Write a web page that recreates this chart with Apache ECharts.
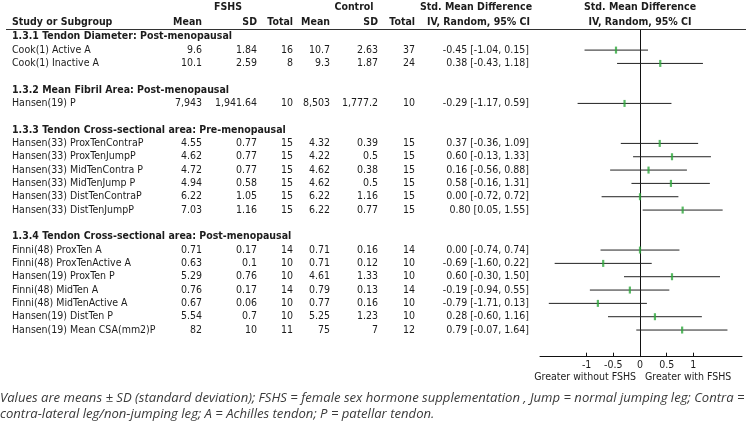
<!DOCTYPE html>
<html><head><meta charset="utf-8">
<script src="https://cdn.jsdelivr.net/npm/echarts@6/dist/echarts.min.js"></script>
<style>html,body{margin:0;padding:0;background:#fff}#c{width:749px;height:430px}</style>
</head><body><div id="c"></div>
<script>
const groupTitles = [
  '1.3.1 Tendon Diameter: Post-menopausal',
  '1.3.2 Mean Fibril Area: Post-menopausal',
  '1.3.3 Tendon Cross-sectional area: Pre-menopausal',
  '1.3.4 Tendon Cross-sectional area: Post-menopausal'
];
const studyGroup = [0,0,1,2,2,2,2,2,2,3,3,3,3,3,3,3];
const studies = ['Cook(1) Active A','Cook(1) Inactive A','Hansen(19) P','Hansen(33) ProxTenContraP','Hansen(33) ProxTenJumpP','Hansen(33) MidTenContra P','Hansen(33) MidTenJump P','Hansen(33) DistTenContraP','Hansen(33) DistTenJumpP','Finni(48) ProxTen A','Finni(48) ProxTenActive A','Hansen(19) ProxTen P','Finni(48) MidTen A','Finni(48) MidTenActive A','Hansen(19) DistTen P','Hansen(19) Mean CSA(mm2)P'];
const fshsMean = [9.6,10.1,7943,4.55,4.62,4.72,4.94,6.22,7.03,0.71,0.63,5.29,0.76,0.67,5.54,82];
const fshsSD = [1.84,2.59,1941.64,0.77,0.77,0.77,0.58,1.05,1.16,0.17,0.1,0.76,0.17,0.06,0.7,10];
const fshsN = [16,8,10,15,15,15,15,15,15,14,10,10,14,10,10,11];
const ctrlMean = [10.7,9.3,8503,4.32,4.22,4.62,4.62,6.22,6.22,0.71,0.71,4.61,0.79,0.77,5.25,75];
const ctrlSD = [2.63,1.87,1777.2,0.39,0.5,0.38,0.5,1.16,0.77,0.16,0.12,1.33,0.13,0.16,1.23,7];
const ctrlN = [37,24,10,15,15,15,15,15,15,14,10,10,14,10,10,12];
const smd = [-0.45,0.38,-0.29,0.37,0.60,0.16,0.58,0.00,0.80,0.00,-0.69,0.60,-0.19,-0.79,0.28,0.79];
const ciLow = [-1.04,-0.43,-1.17,-0.36,-0.13,-0.56,-0.16,-0.72,0.05,-0.74,-1.60,-0.30,-0.94,-1.71,-0.60,-0.07];
const ciHigh = [0.15,1.18,0.59,1.09,1.33,0.88,1.31,0.72,1.55,0.74,0.22,1.50,0.55,0.13,1.16,1.64];
const xTickValues = [-1,-0.5,0,0.5,1];
const leftLabel = 'Greater without FSHS';
const rightLabel = 'Greater with FSHS';
const footnote1 = 'Values are means \u00b1 SD (standard deviation); FSHS = female sex hormone supplementation , Jump = normal jumping leg; Contra =';
const footnote2 = 'contra-lateral leg/non-jumping leg; A = Achilles tendon; P = patellar tendon.';

const FONT = '"DejaVu Sans Condensed", "DejaVu Sans", sans-serif';
const FS = 10.5;
const INK = '#1c1c1c';

const fmt = v => v.toLocaleString('en-US', {maximumFractionDigits: 2});
const f2 = v => v.toFixed(2);

// build row layout
const rows = [];
let r = 0;
groupTitles.forEach((t, g) => {
  rows.push({type: 'h', row: r++, text: t});
  studies.forEach((s, i) => { if (studyGroup[i] === g) rows.push({type: 's', row: r++, i: i}); });
  r++;
});
const studyRow = [];
rows.forEach(o => { if (o.type === 's') studyRow[o.i] = o.row; });

const cols = [
  {x: 202, get: i => fmt(fshsMean[i])},
  {x: 257, get: i => fmt(fshsSD[i])},
  {x: 293, get: i => String(fshsN[i])},
  {x: 330, get: i => fmt(ctrlMean[i])},
  {x: 378, get: i => fmt(ctrlSD[i])},
  {x: 415, get: i => String(ctrlN[i])},
  {x: 529, get: i => f2(smd[i]) + ' [' + f2(ciLow[i]) + ', ' + f2(ciHigh[i]) + ']'}
];

function txt(x, y, text, align, bold, size) {
  return {type: 'text', x: x, y: y, silent: true,
    style: {text: text, align: align, verticalAlign: 'middle', fill: INK,
      fontFamily: FONT, fontSize: size || FS, fontWeight: bold ? 'bold' : 'normal'}};
}
function note(y, text) {
  return {type: 'text', x: 0, y: y, silent: true,
    style: {text: text, align: 'left', verticalAlign: 'middle', fill: '#3a3a3a',
      fontFamily: '"Open Sans", sans-serif', fontStyle: 'italic', fontSize: 13.1}};
}

const chart = echarts.init(document.getElementById('c'), null, {renderer: 'canvas'});

const headerGraphics = [
  txt(228, 7, 'FSHS', 'center', true),
  txt(354, 7, 'Control', 'center', true),
  txt(476, 7, 'Std. Mean Difference', 'center', true),
  txt(640, 7, 'Std. Mean Difference', 'center', true),
  txt(12, 22, 'Study or Subgroup', 'left', true),
  txt(202, 22, 'Mean', 'right', true),
  txt(257, 22, 'SD', 'right', true),
  txt(293, 22, 'Total', 'right', true),
  txt(330, 22, 'Mean', 'right', true),
  txt(378, 22, 'SD', 'right', true),
  txt(415, 22, 'Total', 'right', true),
  txt(530, 22, 'IV, Random, 95% CI', 'right', true),
  txt(640, 22, 'IV, Random, 95% CI', 'center', true),
  {type: 'line', silent: true, shape: {x1: 6, y1: 29.5, x2: 746, y2: 29.5}, style: {stroke: '#333', lineWidth: 1.2}},
  txt(636, 377, leftLabel, 'right', false),
  txt(645, 377, rightLabel, 'left', false),
  note(398, footnote1),
  note(414, footnote2)
];

chart.setOption({
  animation: false,
  backgroundColor: '#fff',
  grid: {left: 540, right: 7, top: 30.1, bottom: 73.3, containLabel: false},
  xAxis: {
    type: 'value', min: -1.875, max: 1.9125,
    axisLine: {show: true, onZero: false, lineStyle: {color: '#111', width: 1}},
    axisTick: {show: true, inside: true, length: 4, customValues: xTickValues, lineStyle: {color: '#111'}},
    axisLabel: {show: true, customValues: xTickValues, margin: 3, color: INK, fontFamily: FONT, fontSize: FS,
      formatter: v => String(v)},
    splitLine: {show: false}
  },
  yAxis: {
    type: 'value', inverse: true, min: -0.5, max: 24,
    axisLine: {show: true, onZero: true, lineStyle: {color: '#111', width: 1}},
    axisTick: {show: false}, axisLabel: {show: false}, splitLine: {show: false}
  },
  graphic: headerGraphics,
  series: [
    {
      type: 'custom', name: 'table', clip: false, silent: true,
      data: rows.map((o, k) => [0, o.row, k]),
      renderItem: function (params, api) {
        const o = rows[api.value(2)];
        const y = api.coord([0, api.value(1)])[1];
        if (o.type === 'h') return {type: 'group', children: [txt(12, y, o.text, 'left', true)]};
        const i = o.i;
        const ch = [txt(12, y, studies[i], 'left', false)];
        cols.forEach(c => ch.push(txt(c.x, y, c.get(i), 'right', false)));
        return {type: 'group', children: ch};
      }
    },
    {
      type: 'custom', name: 'ci', clip: false, silent: true,
      data: studies.map((s, i) => [ciLow[i], ciHigh[i], studyRow[i]]),
      renderItem: function (params, api) {
        const a = api.coord([api.value(0), api.value(2)]);
        const b = api.coord([api.value(1), api.value(2)]);
        return {type: 'line', shape: {x1: a[0], y1: a[1], x2: b[0], y2: b[1]},
          style: {stroke: '#222', lineWidth: 1}};
      }
    },
    {
      type: 'scatter', name: 'smd', silent: true, z: 5,
      symbol: 'rect', symbolSize: [2.2, 7],
      itemStyle: {color: '#2ea83c'},
      data: studies.map((s, i) => [smd[i], studyRow[i]])
    }
  ]
});
</script></body></html>
